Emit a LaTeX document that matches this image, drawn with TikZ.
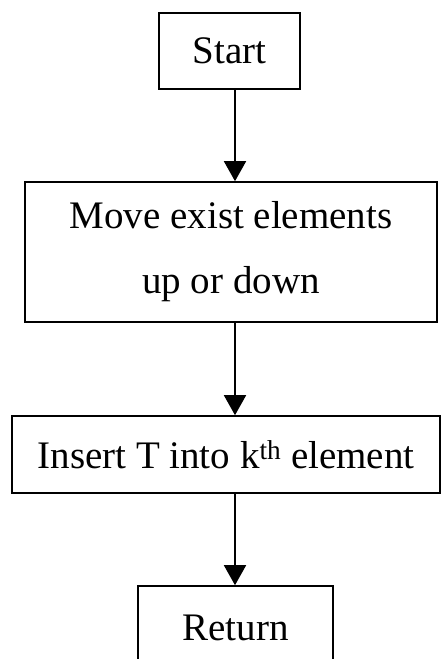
\documentclass[tikz,border=0pt]{standalone}
\usepackage{fontspec}
\setmainfont{Liberation Serif}
\usetikzlibrary{positioning,arrows.meta}

\tikzset{
  stepbox/.style={draw,line width=1.6pt,inner sep=0pt,align=center,
    font=\fontsize{39}{47}\selectfont},
  flow/.style={-{Triangle[width=22pt,length=20pt]},line width=1.6pt}
}

\begin{document}
\begin{tikzpicture}[x=1pt,y=-1pt]
  % page frame = reference size
  \clip (0,0) rectangle (442,659);
  \fill[white] (0,0) rectangle (442,659);

  \node[stepbox,minimum width=141pt,minimum height=76pt] (start) at (229.5,51) {Start};
  \node[stepbox,minimum width=412pt,minimum height=140pt] (move) at (231,252)
    {Move exist elements\\[18pt]up or down};
  \node[stepbox,minimum width=428pt,minimum height=77pt] (insert) at (226,454.5)
    {Insert T into k\textsuperscript{th} element};
  \node[stepbox,minimum width=195pt,minimum height=84pt,text depth=0pt] (ret) at (235.5,628)
    {Return};

  % arrows run down one column
  \coordinate (col) at (235,0);
  \draw[flow] (start.south -| col) -- (move.north -| col);
  \draw[flow] (move.south -| col) -- (insert.north -| col);
  \draw[flow] (insert.south -| col) -- (ret.north -| col);
\end{tikzpicture}
\end{document}
